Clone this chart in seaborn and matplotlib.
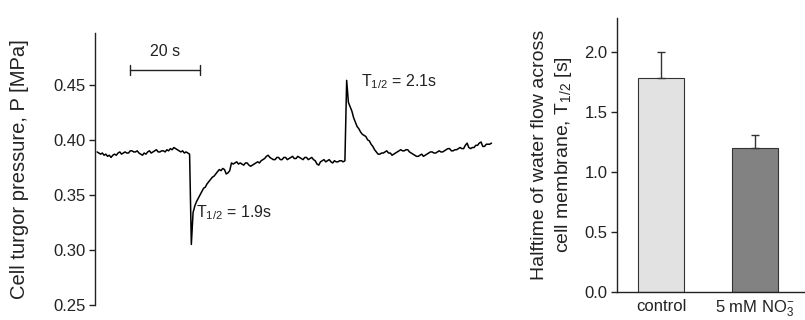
import numpy as np
import pandas as pd
import matplotlib
matplotlib.use("Agg")
import matplotlib.pyplot as plt
import seaborn as sns

# ---------------- data ----------------
# turgor pressure trace, one reading every 0.5 s
sample_step_s = 0.5
p_before = [0.389, 0.388, 0.387, 0.388, 0.386, 0.387, 0.385, 0.386, 0.384, 0.386,
            0.387, 0.386, 0.388, 0.389, 0.387, 0.388, 0.389, 0.388, 0.388, 0.390,
            0.390, 0.389, 0.389, 0.390, 0.388, 0.387, 0.386, 0.388, 0.387, 0.389,
            0.390, 0.388, 0.389, 0.390, 0.391, 0.389, 0.389, 0.390, 0.390, 0.389,
            0.391, 0.390, 0.392, 0.391, 0.393, 0.392, 0.391, 0.390, 0.389, 0.390,
            0.388, 0.389, 0.388]
p_dip = [0.387, 0.305, 0.334, 0.340, 0.344, 0.347, 0.350, 0.353, 0.356, 0.357,
         0.360, 0.362, 0.364, 0.366, 0.367, 0.369, 0.371, 0.373, 0.372, 0.374,
         0.373, 0.369, 0.370, 0.372, 0.379, 0.378]
p_middle = [0.379, 0.380, 0.378, 0.379, 0.378, 0.377, 0.379, 0.379, 0.377, 0.376,
            0.377, 0.378, 0.379, 0.380, 0.379, 0.381, 0.382, 0.383, 0.385, 0.386,
            0.384, 0.383, 0.382, 0.382, 0.384, 0.384, 0.382, 0.382, 0.384, 0.384,
            0.382, 0.383, 0.384, 0.385, 0.383, 0.383, 0.385, 0.384, 0.383, 0.382,
            0.384, 0.384, 0.382, 0.383, 0.384, 0.382, 0.381, 0.378, 0.377, 0.380,
            0.381, 0.382, 0.380, 0.381, 0.382, 0.380, 0.379, 0.381, 0.380, 0.380,
            0.381, 0.381, 0.380, 0.381]
p_spike = [0.454, 0.434, 0.430, 0.426, 0.420, 0.416, 0.412, 0.410, 0.407, 0.405,
           0.404, 0.403, 0.400, 0.399, 0.396, 0.394, 0.391, 0.389]
p_after = [0.387, 0.387, 0.388, 0.388, 0.389, 0.390, 0.388, 0.388, 0.386, 0.387,
           0.388, 0.389, 0.390, 0.391, 0.390, 0.390, 0.391, 0.391, 0.389, 0.388,
           0.387, 0.386, 0.385, 0.385, 0.386, 0.387, 0.385, 0.386, 0.387, 0.388,
           0.389, 0.389, 0.388, 0.388, 0.389, 0.390, 0.389, 0.389, 0.390, 0.391,
           0.392, 0.392, 0.390, 0.390, 0.391, 0.391, 0.392, 0.393, 0.392, 0.392,
           0.395, 0.397, 0.393, 0.392, 0.393, 0.393, 0.395, 0.395, 0.397, 0.398,
           0.394, 0.394, 0.396, 0.396, 0.396, 0.397]
pressure = p_before + p_dip + p_middle + p_spike + p_after
time_s = [i * sample_step_s for i in range(len(pressure))]

groups = ["control", "5 mM NO$_3^{-}$"]
halftime = [1.78, 1.20]
halftime_err = [0.22, 0.11]
bar_colors = ["#e2e2e2", "#828282"]

left_yticks = [0.25, 0.30, 0.35, 0.40, 0.45]
right_yticks = [0.0, 0.5, 1.0, 1.5, 2.0]

# ---------------- style ----------------
sns.set_theme(style="white")
plt.rcParams["font.family"] = ["Liberation Sans", "DejaVu Sans"]
plt.rcParams["mathtext.fontset"] = "custom"
plt.rcParams["mathtext.rm"] = "Liberation Sans"
plt.rcParams["mathtext.it"] = "Liberation Sans"
plt.rcParams["axes.edgecolor"] = "#222222"
plt.rcParams["axes.linewidth"] = 1.0

TICK_FS = 12
ANN_FS = 11.5
XL_FS = 12
ink = "#222222"

fig = plt.figure(figsize=(8.05, 3.2), dpi=100)

# ---------------- left panel: trace ----------------
ax1 = fig.add_axes([95 / 805, 15 / 320, 400 / 805, 272 / 320])
trace = pd.DataFrame({"t": time_s, "P": pressure})
sns.lineplot(data=trace, x="t", y="P", ax=ax1, color="black", lw=1.1,
             estimator=None, sort=False)
ax1.set_xlim(-0.6, 114)
ax1.set_ylim(0.25, 0.497)
ax1.set_yticks(left_yticks)
ax1.set_yticklabels([f"{v:.2f}" for v in left_yticks], fontsize=TICK_FS, color=ink)
ax1.set_xticks([])
ax1.set_xlabel("")
ax1.set_ylabel("Cell turgor pressure, P [MPa]", fontsize=14.5, color=ink, labelpad=17)
for s in ["top", "right", "bottom"]:
    ax1.spines[s].set_visible(False)
ax1.tick_params(axis="y", direction="out", length=4, width=1, color=ink, pad=3,
                left=True)

# scale bar 20 s
ax1.plot([9.5, 29.5], [0.4636, 0.4636], color=ink, lw=1)
ax1.plot([9.5, 9.5], [0.459, 0.468], color=ink, lw=1)
ax1.plot([29.5, 29.5], [0.459, 0.468], color=ink, lw=1)
ax1.text(19.5, 0.4805, "20 s", ha="center", va="center", fontsize=ANN_FS, color=ink)

ax1.text(75.6, 0.4525, "T$_{1/2}$ = 2.1s", ha="left", va="center", fontsize=ANN_FS, color=ink)
ax1.text(28.2, 0.334, "T$_{1/2}$ = 1.9s", ha="left", va="center", fontsize=ANN_FS, color=ink)

# ---------------- right panel: bars ----------------
ax2 = fig.add_axes([617 / 805, 28 / 320, 188 / 805, 274 / 320])
bars = pd.DataFrame({"group": groups, "T": halftime})
sns.barplot(data=bars, x="group", y="T", hue="group", palette=bar_colors,
            ax=ax2, width=0.49, edgecolor="#333333", linewidth=0.8,
            errorbar=None, legend=False, order=groups)
ax2.errorbar(x=[0, 1], y=halftime, yerr=[[0, 0], halftime_err], fmt="none",
             ecolor="#333333", elinewidth=1, capsize=3, capthick=1)
ax2.set_xlim(-0.47, 1.53)
ax2.set_ylim(0, 2.28)
ax2.set_yticks(right_yticks)
ax2.set_yticklabels([f"{v:.1f}" for v in right_yticks], fontsize=TICK_FS, color=ink)
ax2.set_xlabel("")
ax2.set_ylabel("Halftime of water flow across\ncell membrane, T$_{1/2}$ [s]",
               fontsize=14, color=ink, labelpad=7, linespacing=1.35)
ax2.tick_params(axis="x", length=0, pad=5, labelsize=XL_FS, colors=ink)
ax2.tick_params(axis="y", direction="out", length=4, width=1, color=ink, pad=3,
                left=True)
for s in ["top", "right"]:
    ax2.spines[s].set_visible(False)

fig.savefig("out.png", dpi=100)
